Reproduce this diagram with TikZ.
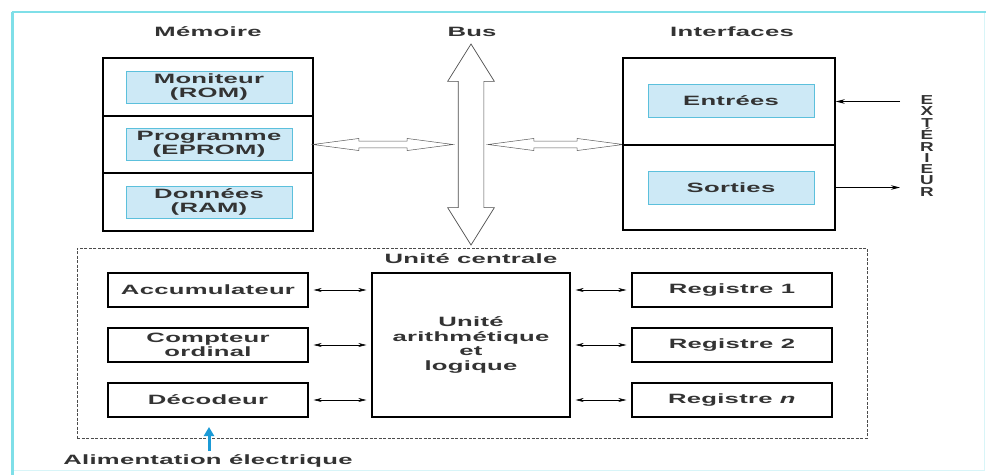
\documentclass[tikz,border=0pt]{standalone}
\usepackage{fontspec}
\setmainfont{Liberation Sans}[FakeStretch=1.9,LetterSpace=2,UprightFont=* Bold,ItalicFont=* Bold Italic]
\newfontfamily\extfont{Liberation Sans}[FakeStretch=1.45,UprightFont=* Bold]
\usepackage{tikz}
\usetikzlibrary{arrows.meta,calc,shapes.arrows}
\definecolor{FrameCyan}{HTML}{7fdfe8}
\definecolor{BoxBlue}{HTML}{cde9f6}
\definecolor{BoxEdge}{HTML}{5cc0dc}
\definecolor{AlimBlue}{HTML}{1b9ad6}
\definecolor{TextGray}{HTML}{333333}
\tikzset{
  every node/.style={text=TextGray},
  section/.style={draw,line width=1.4pt,minimum width=210pt,inner sep=0pt},
  inbox/.style={draw=BoxEdge,fill=BoxBlue,line width=0.9pt,minimum width=166pt,
    minimum height=32pt,align=center,inner sep=0pt,font=\fontsize{13.5}{14}\selectfont},
  unit/.style={draw,line width=1.4pt,minimum width=200pt,minimum height=34pt,
    align=center,inner sep=0pt,font=\fontsize{13.5}{13.5}\selectfont},
  title/.style={font=\fontsize{13.5}{13.5}\selectfont},
  hollow/.style={double arrow,draw=black!65,line width=0.5pt,inner xsep=0pt,inner ysep=3.2pt,
    double arrow head extend=2.6pt,double arrow tip angle=15},
  biarrow/.style={{Stealth[length=8pt,width=4pt]}-{Stealth[length=8pt,width=4pt]},
    line width=0.6pt,shorten <=5pt,shorten >=5pt},
  extarrow/.style={-{Stealth[length=9pt,width=4.5pt]},line width=1pt}
}
\begin{document}
\begin{tikzpicture}[x=1pt,y=-1pt]
  \useasboundingbox (0,0) rectangle (986,475);
  \draw[FrameCyan!30,line width=1pt] (984,12) -- (984,470) -- (12,470);
  \draw[FrameCyan,line width=1.5pt] (986,12) -- (12,12);
  \draw[FrameCyan,line width=3pt] (12,12) -- (12,475);

  % memoire
  \node[title] (memtitle) at (208,32) {Mémoire};
  \foreach \y/\h/\name/\txt in {87/58/mon/{Moniteur\\(ROM)},144.5/57/prg/{Programme\\(EPROM)},202/58/don/{Données\\(RAM)}} {
    \node[section,minimum height=\h pt] (\name) at (208,\y) {};
    \node[inbox] (\name-in) at (209,\y) {\txt};
  }

  % bus
  \node[title] (bustitle) at (472,32) {Bus};
  \node[double arrow,draw=black!70,line width=0.7pt,rotate=90,minimum height=201pt,
    inner xsep=0pt,inner ysep=12.5pt,double arrow head extend=10.5pt,
    double arrow tip angle=64] (bus) at (471,144.5) {};
  \node[hollow,minimum height=140pt] (lbus) at (383,144.5) {};
  \node[hollow,minimum height=135pt] (rbus) at (555.5,144.5) {};

  % interfaces
  \node[title] (inttitle) at (732,32) {Interfaces};
  \foreach \y/\h/\name/\yin/\txt in {101.5/87/ent/100.5/Entrées,187.5/85/sor/188/Sorties} {
    \node[section,minimum width=212pt,minimum height=\h pt] (\name) at (729,\y) {};
    \node[inbox,minimum height=33pt] (\name-in) at (731,\yin) {\txt};
  }
  \coordinate (extin) at (900,101.5);
  \coordinate (extout) at (900,187.5);
  \draw[extarrow] (extin) -- (ent.east);
  \draw[extarrow] (sor.east) -- (extout);
  \node[font=\extfont\fontsize{13}{11.3}\selectfont,align=center,inner sep=0pt] (ext) at (927,146)
    {E\\X\\T\\É\\R\\I\\E\\U\\R};

  % unite centrale
  \node[draw=black!70,dashed,dash pattern=on 3pt off 1.5pt,line width=0.7pt,
    minimum width=790pt,minimum height=190pt] (uc) at (472,343) {};
  \node[title] (uctitle) at (471,259) {Unité centrale};
  \node[unit,minimum width=198pt,minimum height=144pt,font=\fontsize{13.5}{14.5}\selectfont] (alu) at (471,345)
    {Unité\\arithmétique\\et\\logique};
  \foreach \y/\name/\txt in {290/acc/Accumulateur,345/cpt/{Compteur\\ordinal},400/dec/Décodeur} {
    \node[unit] (\name) at (208,\y) {\txt};
    \draw[biarrow] (\name.east) -- (\name.east -| alu.west);
  }
  \foreach \y/\name/\txt in {290/rg1/Registre 1,345/rg2/Registre 2,400/rgn/{Registre \textit{n}}} {
    \node[unit] (\name) at (732,\y) {\txt};
    \draw[biarrow] (\name.west -| alu.east) -- (\name.west);
  }

  % alimentation
  \node[title] (alim) at (208,461) {Alimentation électrique};
  \coordinate (alimtip) at (209,427);
  \draw[AlimBlue,line width=3pt,-{Triangle[length=9pt,width=10pt]}] (alim.north -| alimtip) -- (alimtip);
\end{tikzpicture}
\end{document}
